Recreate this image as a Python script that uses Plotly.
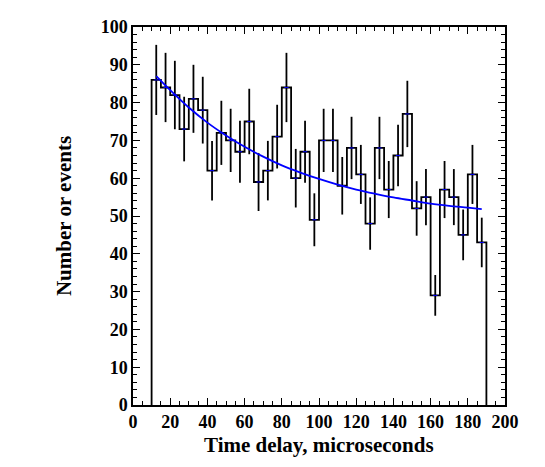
import numpy as np
import plotly.graph_objects as go

# histogram of decay times, 5 us bins from 10 to 190
bin_edges = list(range(10, 195, 5))
counts = [86, 84, 82, 73, 81, 78, 62, 72, 70, 67, 75, 59, 62, 71, 84, 60, 67, 49,
          70, 70, 58, 68, 61, 48, 68, 57, 66, 77, 52, 55, 29, 57, 55, 45, 61, 43]

# fitted curve
fit_t = [12.5, 20, 30, 40, 50, 60, 70, 80, 90, 100, 110, 120, 130, 140, 150, 160, 170, 180, 187.5]
fit_y = [87.0, 83.3, 78.7, 74.7, 71.3, 68.3, 65.7, 63.4, 61.5, 59.8, 58.3, 57.0, 55.9, 54.9,
         54.1, 53.3, 52.7, 52.2, 51.8]

centers = [(a + b) / 2 for a, b in zip(bin_edges[:-1], bin_edges[1:])]
errors = list(np.sqrt(counts))

font_family = "Liberation Serif, Times New Roman, serif"
title_font = dict(family=font_family, size=21, color="black", weight="bold")

fig = go.Figure()

step_x = [bin_edges[0]] + bin_edges[:-1] + [bin_edges[-1], bin_edges[-1]]
step_y = [0] + counts + [counts[-1], 0]
fig.add_trace(go.Scatter(
    x=step_x, y=step_y, mode="lines", line_shape="hv",
    line=dict(color="black", width=1.8), hoverinfo="skip",
))

fig.add_trace(go.Scatter(
    x=centers, y=counts, mode="markers",
    marker=dict(color="blue", size=3, symbol="line-ew", line=dict(color="blue", width=1)),
    error_y=dict(type="data", array=errors, visible=True, color="black", thickness=1.8, width=0),
))

fig.add_trace(go.Scatter(
    x=fit_t, y=fit_y, mode="lines", line_shape="spline",
    line=dict(color="blue", width=1.8),
))

axis_common = dict(
    showgrid=False, zeroline=False, showline=True, linecolor="black", linewidth=1.5,
    mirror="allticks", ticks="inside", ticklen=7, tickwidth=1.2, tickcolor="black",
    automargin=False,
    tickfont=dict(family=font_family, size=18, color="black", weight="bold"),
)

fig.update_xaxes(
    range=[0, 200], tick0=0, dtick=20, ticklabelstandoff=0,
    minor=dict(ticks="inside", dtick=5, ticklen=4, tickwidth=1, tickcolor="black"),
    **axis_common,
)
fig.update_yaxes(
    range=[0, 100], tick0=0, dtick=10,
    minor=dict(ticks="inside", dtick=2, ticklen=4, tickwidth=1, tickcolor="black"),
    title=dict(text="Number or events", standoff=23, font=title_font),
    **axis_common,
)

# x title as an annotation so it can sit at the right distance from the tick labels
fig.add_annotation(
    text="Time delay, microseconds", xref="paper", yref="paper", x=0.5, y=0,
    xanchor="center", yanchor="top", yshift=-26, showarrow=False, font=title_font,
)

# the page adds an 8 px body margin, so the margins are trimmed to match
fig.update_layout(
    width=545, height=467,
    margin=dict(l=125, r=48, t=19, b=70),
    plot_bgcolor="white", paper_bgcolor="white",
    showlegend=False,
)

fig.write_html("out.html")
